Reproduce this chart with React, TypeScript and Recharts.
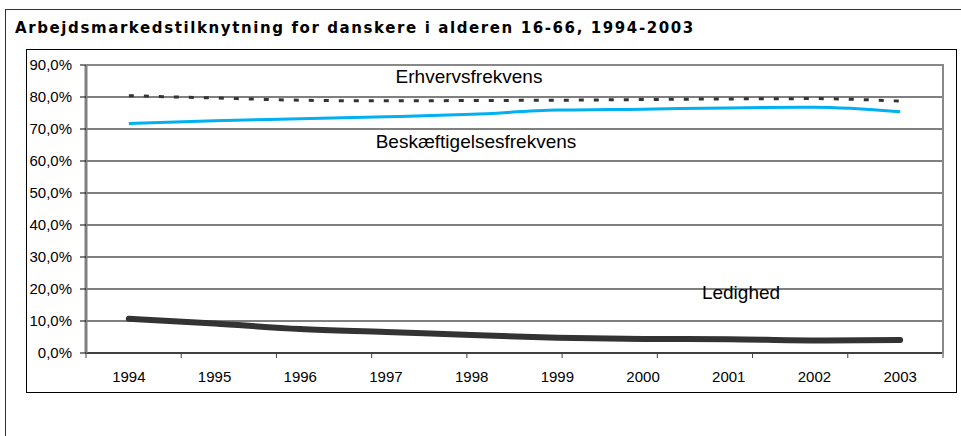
import React from "react";
import { CartesianGrid, Line, LineChart, XAxis, YAxis } from "recharts";

const years = ["1994", "1995", "1996", "1997", "1998", "1999", "2000", "2001", "2002", "2003"];
const erhvervsfrekvens = [80.4, 79.7, 79.0, 78.8, 78.9, 79.0, 79.2, 79.4, 79.5, 78.7];
const beskaeftigelsesfrekvens = [71.7, 72.6, 73.2, 73.8, 74.6, 75.9, 76.2, 76.6, 76.8, 75.4];
const ledighed = [10.7, 9.2, 7.5, 6.6, 5.6, 4.8, 4.4, 4.3, 3.9, 4.1];
const yTicks = [0, 10, 20, 30, 40, 50, 60, 70, 80, 90];

const title = "Arbejdsmarkedstilknytning for danskere i alderen 16-66, 1994-2003";

const data = years.map((year, i) => ({
	year,
	erhverv: erhvervsfrekvens[i],
	beskaeft: beskaeftigelsesfrekvens[i],
	ledig: ledighed[i],
}));

// tick marks sit between the categories, like the Excel original
const bandEdges = [...years.map((_, i) => i), years.length];

const fmtPct = (v: number) => `${v.toFixed(1).replace(".", ",")}%`;

const sans = "'Liberation Sans', Arial, sans-serif";

const labelStyle: React.CSSProperties = {
	position: "absolute",
	fontFamily: sans,
	fontSize: 19,
	color: "#000",
	transform: "translate(-50%, -50%)",
	whiteSpace: "nowrap",
	lineHeight: 1,
};

const NoTick = () => <g />;

export default function App() {
	return (
		<div style={{ position: "absolute", left: 0, top: 0, width: 961, height: 436, background: "#fff", overflow: "hidden" }}>
			{/* outer frame */}
			<div style={{ position: "absolute", left: 5, top: 9, width: 970, height: 450, border: "1px solid #333" }} />
			<div
				style={{
					position: "absolute",
					left: 15,
					top: 19,
					fontFamily: "'DejaVu Sans', Verdana, sans-serif",
					fontWeight: "bold",
					fontSize: 15,
					letterSpacing: 1.6,
					color: "#000",
					whiteSpace: "nowrap",
				}}
			>
				{title}
			</div>
			{/* inner chart frame */}
			<div style={{ position: "absolute", left: 26, top: 49, width: 929, height: 342, border: "1px solid #000" }} />

			<div style={{ position: "absolute", left: 0, top: 0 }}>
				<LineChart
					width={961}
					height={436}
					data={data}
					margin={{ top: 65, right: 18, bottom: 53, left: 26 }}
				>
					<CartesianGrid vertical={false} stroke="#000" strokeWidth={1} />
					<XAxis
						xAxisId="edges"
						type="number"
						domain={[0, years.length]}
						ticks={bandEdges}
						allowDataOverflow
						tick={NoTick}
						interval={0}
						tickSize={5}
						height={6}
						axisLine={{ stroke: "#404040", strokeWidth: 2 }}
						tickLine={{ stroke: "#404040", strokeWidth: 1 }}
					/>
					<XAxis
						xAxisId="years"
						dataKey="year"
						scale="band"
						axisLine={false}
						tickLine={false}
						tickSize={0}
						tickMargin={12}
						height={24}
						interval={0}
						tick={{ fontFamily: sans, fontSize: 15, fill: "#000" }}
					/>
					<YAxis
						domain={[0, 90]}
						ticks={yTicks}
						tickFormatter={fmtPct}
						width={60}
						tickSize={6}
						tickMargin={8}
						interval={0}
						axisLine={{ stroke: "#808080", strokeWidth: 3 }}
						tickLine={{ stroke: "#000", strokeWidth: 1 }}
						tick={{ fontFamily: sans, fontSize: 15, fill: "#000" }}
					/>
					<Line
						xAxisId="years"
						type="monotone"
						dataKey="erhverv"
						stroke="#333"
						strokeWidth={3}
						strokeDasharray="5 10"
						dot={false}
						isAnimationActive={false}
					/>
					<Line
						xAxisId="years"
						type="monotone"
						dataKey="beskaeft"
						stroke="#00b0f0"
						strokeWidth={3}
						dot={false}
						isAnimationActive={false}
					/>
					<Line
						xAxisId="years"
						type="monotone"
						dataKey="ledig"
						stroke="#333"
						strokeWidth={6}
						strokeLinecap="round"
						dot={false}
						isAnimationActive={false}
					/>
				</LineChart>
			</div>

			{/* plot area border (top and right) */}
			<div style={{ position: "absolute", left: 86, top: 64, width: 856, height: 288, borderTop: "2px solid #888", borderRight: "2px solid #888" }} />

			<div style={{ ...labelStyle, left: 469, top: 76 }}>Erhvervsfrekvens</div>
			<div style={{ ...labelStyle, left: 476, top: 141 }}>Beskæftigelsesfrekvens</div>
			<div style={{ ...labelStyle, left: 741, top: 292 }}>Ledighed</div>
		</div>
	);
}
